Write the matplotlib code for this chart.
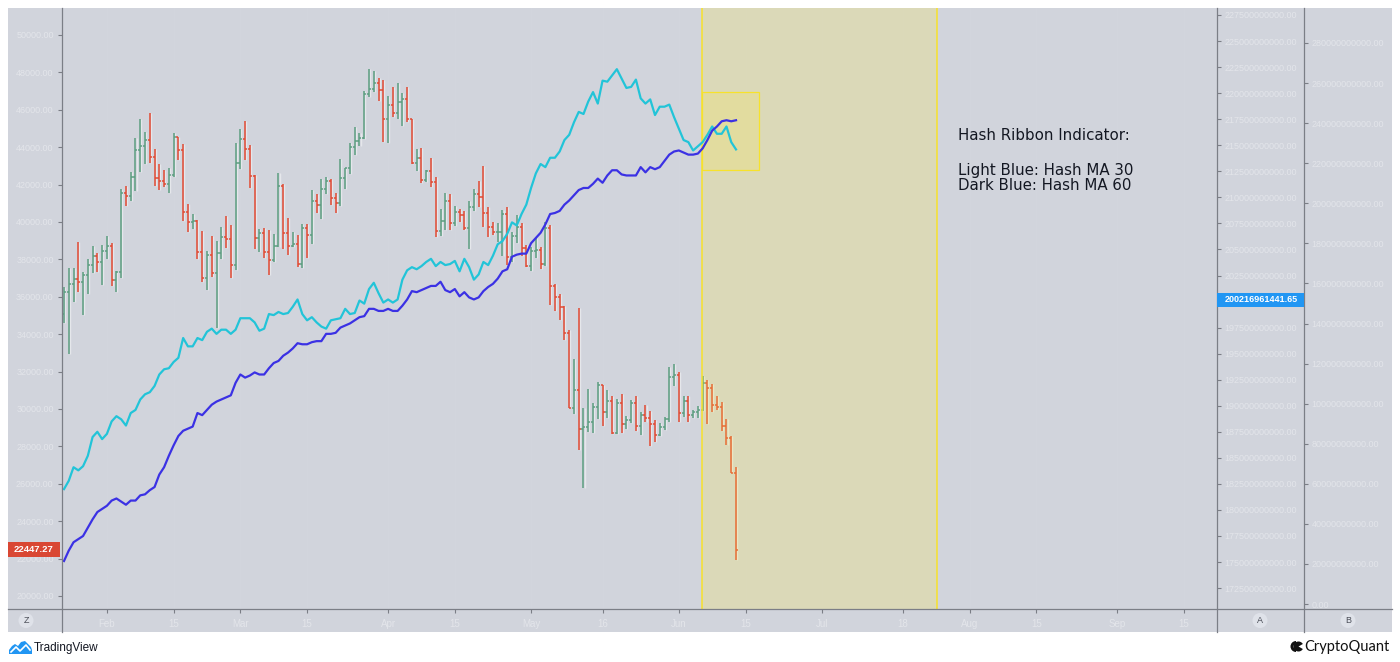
import matplotlib
matplotlib.use("Agg")
import matplotlib.pyplot as plt
import matplotlib.dates as mdates
from matplotlib.patches import Rectangle, Circle, Polygon, Wedge
from matplotlib.lines import Line2D
from matplotlib.ticker import FixedLocator, FuncFormatter
import numpy as np
import pandas as pd

# ---------------- data ----------------
start_date = "2022-01-23"
opens = [35071, 36244, 36660, 36958, 36810, 37160, 37716, 38166, 37881, 38466,
         38694, 36896, 37311, 41574, 41382, 42380, 43839, 44042, 44373, 43495,
         42373, 42217, 42053, 42535, 44544, 43873, 40515, 39975, 40080, 38386,
         37009, 38230, 37250, 38328, 39219, 39116, 37699, 43160, 44421, 43892,
         42454, 39148, 39397, 38420, 37988, 38730, 41941, 39422, 38730, 38807,
         37777, 39671, 39280, 41114, 40917, 41757, 42201, 41262, 41002, 42364,
         42882, 43991, 44313, 44511, 46827, 47122, 47434, 47067, 45510, 46283,
         45811, 46407, 46580, 45497, 43170, 43445, 42252, 42753, 42158, 39530,
         40074, 41147, 39942, 40552, 40378, 39678, 40801, 41494, 41358, 40480,
         39709, 39441, 39450, 40426, 38112, 39235, 39742, 38596, 37630, 38468,
         38525, 37729, 39690, 36552, 36013, 35472, 34038, 30076, 31017, 28936,
         29047, 29283, 30101, 31305, 29862, 30425, 28716, 30297, 29198, 29432,
         30323, 29098, 29655, 29543, 29202, 28629, 29031, 29468, 31734, 31801,
         29800, 30452, 29700, 29865, 29920, 31373, 31125, 30205, 30110, 29090,
         28424, 26574]
highs = [36499, 37550, 37545, 38919, 37300, 38000, 38720, 38360, 38744, 39265,
         38855, 37387, 41772, 41913, 42656, 44500, 45492, 44799, 45821, 43920,
         43079, 42760, 42876, 44751, 44549, 44164, 40959, 40444, 40125, 39494,
         38429, 39249, 38968, 39728, 40300, 39855, 44225, 44949, 45400, 44102,
         42527, 39613, 39693, 39547, 39362, 42594, 42039, 40236, 39486, 39310,
         39914, 39887, 41718, 41478, 42325, 42400, 42296, 41544, 43361, 42893,
         44220, 45094, 44786, 46999, 48189, 48096, 47700, 47600, 46720, 47213,
         47444, 46890, 47200, 45507, 43900, 43970, 42800, 43410, 42414, 40699,
         41561, 41500, 40870, 40709, 40595, 41116, 41760, 42199, 42976, 40795,
         39980, 39940, 40617, 40797, 39474, 40372, 39925, 38795, 38675, 39168,
         38650, 39980, 39845, 36660, 36146, 35503, 34244, 32658, 35400, 30033,
         31083, 30343, 31460, 31305, 31000, 30670, 30545, 30777, 29617, 30487,
         30672, 29840, 30226, 29876, 29400, 29250, 29577, 32222, 32399, 31982,
         30688, 30690, 29940, 30170, 31760, 31555, 31330, 30700, 30400, 29440,
         28550, 26883]
lows = [34601, 32917, 35701, 36234, 35000, 36155, 37268, 37351, 36632, 38000,
        36586, 36250, 37026, 40843, 41116, 41645, 42666, 43117, 43174, 41938,
        41688, 41870, 41570, 42427, 43307, 40073, 39450, 39639, 38000, 36800,
        36350, 37036, 34322, 38014, 38600, 37000, 37450, 42809, 43334, 41832,
        38550, 38407, 38088, 37155, 37867, 38656, 38539, 38224, 38660, 37578,
        37555, 38098, 38828, 40500, 40135, 41499, 40911, 40467, 40875, 41751,
        42560, 43579, 44072, 44422, 46663, 46950, 46445, 44300, 44200, 45620,
        45530, 45118, 45353, 43121, 42727, 42107, 42125, 41868, 39200, 39254,
        39588, 39551, 39766, 39991, 39546, 38536, 40571, 40820, 39751, 39177,
        39285, 38929, 38200, 37702, 37881, 38881, 38175, 37578, 37386, 38052,
        37500, 37670, 35571, 35258, 34785, 33713, 30033, 29730, 27785, 25800,
        28752, 28713, 29480, 29075, 29500, 28654, 28670, 28730, 28950, 29227,
        28843, 28600, 29294, 28019, 28261, 28549, 28861, 29300, 31216, 29310,
        29580, 29300, 29500, 29500, 29880, 29220, 29850, 29942, 28850, 28100,
        26560, 21900]
closes = [36244, 36660, 36958, 36810, 37160, 37716, 38166, 37881, 38466, 38694,
          36896, 37311, 41574, 41382, 42380, 43839, 44042, 44373, 43495, 42373,
          42217, 42053, 42535, 44544, 43873, 40515, 39975, 40080, 38386, 37009,
          38230, 37250, 38328, 39219, 39116, 37699, 43160, 44421, 43892, 42454,
          39148, 39397, 38420, 37988, 38730, 41941, 39422, 38730, 38807, 37777,
          39671, 39280, 41114, 40917, 41757, 42201, 41262, 41002, 42364, 42882,
          43991, 44313, 44511, 46827, 47122, 47434, 47067, 45510, 46283, 45811,
          46407, 46580, 45497, 43170, 43445, 42252, 42753, 42158, 39530, 40074,
          41147, 39942, 40552, 40378, 39678, 40801, 41494, 41358, 40480, 39709,
          39441, 39450, 40426, 38112, 39235, 39742, 38596, 37630, 38468, 38525,
          37729, 39690, 36552, 36013, 35472, 34038, 30076, 31017, 28936, 29047,
          29283, 30101, 31305, 29862, 30425, 28716, 30297, 29198, 29432, 30323,
          29098, 29655, 29543, 29202, 28629, 29031, 29468, 31734, 31801, 29800,
          30452, 29700, 29865, 29920, 31373, 31125, 30205, 30110, 29090, 28424,
          26574, 22447.27]

# hash rate moving averages (in billions, plotted on scale "A")
hash_ma30 = [182.0, 182.8, 184.1, 183.8, 184.2, 185.2, 187.0, 187.5, 186.8, 187.3,
             188.5, 189.0, 188.7, 188.1, 189.3, 189.6, 190.6, 191.1, 191.3, 191.9,
             193.0, 193.5, 193.6, 194.2, 194.6, 196.5, 195.7, 195.7, 196.5, 196.3,
             197.1, 197.4, 196.9, 197.3, 197.3, 196.9, 197.3, 198.4, 198.4, 198.4,
             198.0, 197.2, 197.4, 198.8, 198.7, 199.0, 198.8, 198.9, 199.5, 200.2,
             198.8, 198.2, 198.5, 198.0, 197.6, 197.4, 198.2, 198.3, 198.4, 199.3,
             198.8, 198.9, 200.1, 199.8, 201.2, 201.8, 200.8, 199.9, 200.2, 199.9,
             200.2, 202.1, 203.0, 203.3, 203.1, 203.4, 203.8, 204.1, 203.4, 203.8,
             203.5, 203.6, 203.9, 202.9, 204.1, 203.3, 202.1, 202.6, 203.8, 203.5,
             204.4, 205.5, 205.8, 206.5, 207.6, 207.3, 208.4, 209.3, 210.9, 212.3,
             213.2, 212.9, 213.8, 213.8, 214.4, 215.5, 216.0, 217.2, 218.2, 218.0,
             219.2, 220.1, 219.0, 221.2, 221.1, 221.7, 222.3, 221.4, 220.5, 220.6,
             221.3, 219.5, 219.0, 219.4, 217.9, 218.7, 218.7, 218.9, 217.7, 216.6,
             215.5, 215.3, 214.5, 214.9, 215.3, 216.0, 216.8, 216.1, 216.1, 216.8,
             215.3, 214.6]
hash_ma60 = [175.1, 176.1, 176.9, 177.2, 177.5, 178.3, 179.1, 179.8, 180.1, 180.4,
             180.9, 181.1, 180.8, 180.5, 180.9, 180.9, 181.4, 181.5, 181.9, 182.2,
             183.4, 184.1, 185.2, 186.2, 187.1, 187.6, 187.8, 188.0, 189.3, 189.1,
             189.6, 190.1, 190.4, 190.6, 190.8, 191.0, 192.2, 193.0, 192.7, 192.9,
             193.2, 193.0, 193.0, 193.6, 194.1, 194.3, 194.8, 195.1, 195.5, 196.0,
             195.9, 195.9, 196.1, 196.2, 196.2, 196.9, 196.9, 197.0, 197.5, 197.7,
             197.9, 198.2, 198.5, 198.6, 199.3, 199.3, 199.1, 199.1, 199.3, 199.1,
             199.1, 199.6, 200.2, 201.0, 200.9, 201.1, 201.3, 201.5, 201.5, 201.9,
             201.1, 200.9, 201.2, 200.5, 200.9, 200.4, 200.2, 200.4, 201.0, 201.4,
             201.7, 202.2, 202.9, 203.1, 204.3, 204.5, 204.6, 204.6, 205.6, 206.1,
             206.6, 207.4, 208.4, 208.5, 208.7, 209.3, 209.7, 210.2, 210.7, 210.9,
             210.9, 211.3, 211.8, 211.4, 212.1, 212.6, 212.6, 212.2, 212.1, 212.1,
             212.1, 212.9, 212.4, 212.9, 212.7, 212.9, 213.5, 214.1, 214.4, 214.5,
             214.3, 214.1, 214.1, 214.2, 214.7, 215.5, 216.4, 216.8, 217.3, 217.4,
             217.3, 217.4]
HASH_UNIT = 1e9

last_price_label = "22447.27"
last_hash_label = "200216961441.65"

price_ticks = [20000, 22000, 24000, 26000, 28000, 30000, 32000, 34000,
               36000, 38000, 40000, 42000, 44000, 46000, 48000, 50000]
hashA_ticks = [172.5, 175.0, 177.5, 180.0, 182.5, 185.0, 187.5, 190.0, 192.5,
               195.0, 197.5, 200.0, 202.5, 205.0, 207.5, 210.0, 212.5, 215.0,
               217.5, 220.0, 222.5, 225.0, 227.5]
hashB_ticks = [0, 20, 40, 60, 80, 100, 120, 140, 160, 180, 200, 220, 240, 260, 280]

date_ticks = ["2022-02-01", "2022-02-15", "2022-03-01", "2022-03-15", "2022-04-01",
              "2022-04-15", "2022-05-01", "2022-05-16", "2022-06-01", "2022-06-15",
              "2022-07-01", "2022-07-18", "2022-08-01", "2022-08-15", "2022-09-01",
              "2022-09-15"]
date_labels = ["Feb", "15", "Mar", "15", "Apr", "15", "May", "16", "Jun", "15",
               "Jul", "18", "Aug", "15", "Sep", "15"]

highlight_span = ("2022-06-05 20:00", "2022-07-25 05:00")
small_box = ("2022-06-05 20:00", "2022-06-17 20:00", 42780, 46950)

annotation_title = "Hash Ribbon Indicator:"
annotation_lines = ["Light Blue: Hash MA 30", "Dark Blue: Hash MA 60"]

# ---------------- style ----------------
BG = "#d1d4dc"
FAINT = "#e3e5ea"
GRID = "#d3d6de"
SPINE = "#7b7e86"
GREEN = "#5c9e80"
RED = "#e14a33"
CYAN = "#22c4d8"
DBLUE = "#3b31e4"
YELLOW = "#ffeb3b"

W, H = 1400, 662
fig = plt.figure(figsize=(W / 100, H / 100), dpi=100)
fig.patch.set_facecolor("white")
T = fig.dpi_scale_trans


def P(px, py):
    return (px / 100.0, (H - py) / 100.0)


def box_px(x0, y0, x1, y1):
    return [x0 / W, 1 - y1 / H, (x1 - x0) / W, (y1 - y0) / H]


# panel background
fig.add_artist(Rectangle(P(8, 632), 13.84, 6.24, transform=T, facecolor=BG,
                         edgecolor="none", zorder=-5))

# ---------------- main price axes ----------------
ax = fig.add_axes(box_px(62, 8, 1217, 609))
ax.set_facecolor("none")
for s in ax.spines.values():
    s.set_visible(False)

dates = pd.date_range(start_date, periods=len(closes), freq="D")
x = mdates.date2num(dates)
x0 = x[0]
day_px = 4.766
ax.set_xlim(x0 - 2 / day_px, x0 + (1217 - 64) / day_px)
ppx = 2000 / 37.4
ax.set_ylim(50000 - (609 - 35) * ppx, 50000 + (35 - 8) * ppx)

ax.yaxis.set_major_locator(FixedLocator(price_ticks))
ax.yaxis.set_major_formatter(FuncFormatter(lambda v, p: f"{v:.2f}"))
ax.tick_params(axis="y", which="both", left=True, labelleft=True, direction="out",
               length=3, width=0.8, color=SPINE, pad=3, labelcolor=FAINT,
               labelsize=6.5, labelfontfamily="Liberation Sans")
tick_nums = mdates.date2num(pd.to_datetime(date_ticks))
ax.xaxis.set_major_locator(FixedLocator(tick_nums))
ax.set_xticklabels(date_labels)
ax.tick_params(axis="x", direction="out", length=3, width=0.8, color=SPINE, pad=4.5,
               labelcolor=FAINT, labelsize=7, labelfontfamily="Liberation Sans")
ax.grid(axis="x", color=GRID, lw=0.7, zorder=0)

# OHLC bars
o = np.array(opens, float); h = np.array(highs, float)
l = np.array(lows, float); c = np.array(closes, float)
cols = [GREEN if cc >= oo else RED for oo, cc in zip(o, c)]
tk = 0.42
ax.vlines(x + 0.22, l, h, color="white", alpha=0.45, lw=1.0, zorder=1)
ax.vlines(x, l, h, color=cols, lw=1.1, zorder=2)
ax.hlines(o, x - tk, x, color=cols, lw=1.1, zorder=2)
ax.hlines(c, x, x + tk, color=cols, lw=1.1, zorder=2)

# highlighted period
hs = mdates.date2num(pd.to_datetime(highlight_span[0]))
he = mdates.date2num(pd.to_datetime(highlight_span[1]))
ax.axvspan(hs, he, color=YELLOW, alpha=0.22, lw=0, zorder=3)
ax.axvline(hs, color="#f7e22b", lw=1.1, zorder=3.5)
ax.axvline(he, color="#f7e22b", lw=1.1, zorder=3.5)
bs = mdates.date2num(pd.to_datetime(small_box[0]))
be = mdates.date2num(pd.to_datetime(small_box[1]))
ax.add_patch(Rectangle((bs, small_box[2]), be - bs, small_box[3] - small_box[2],
                       facecolor=YELLOW, alpha=0.2, edgecolor="none", zorder=3))
ax.add_patch(Rectangle((bs, small_box[2]), be - bs, small_box[3] - small_box[2],
                       facecolor="none", edgecolor="#f7e22b", lw=0.9, zorder=3.5))

# ---------------- hash axis A (twin) ----------------
ax2 = ax.twinx()
ax2.set_facecolor("none")
for s in ax2.spines.values():
    s.set_visible(False)
vpx = 2.5 / 26.05
ax2.set_ylim(227.5e9 - (609 - 15) * vpx * 1e9, 227.5e9 + (15 - 8) * vpx * 1e9)
ax2.yaxis.set_major_locator(FixedLocator([t * 1e9 for t in hashA_ticks]))
ax2.yaxis.set_major_formatter(FuncFormatter(lambda v, p: f"{v:.2f}"))
ax2.tick_params(axis="y", direction="out", length=3, width=0.8, color=SPINE, pad=2.5,
                labelcolor=FAINT, labelsize=6.5, labelfontfamily="Liberation Sans")
ax2.plot(x, np.array(hash_ma30) * HASH_UNIT, color=CYAN, lw=1.6, zorder=4)
ax2.plot(x, np.array(hash_ma60) * HASH_UNIT, color=DBLUE, lw=1.6, zorder=4)

# ---------------- hash axis B ----------------
axb = fig.add_axes(box_px(1217, 8, 1304, 609))
axb.set_facecolor("none")
for s in axb.spines.values():
    s.set_visible(False)
bpx = 561 / 280.0
axb.set_ylim(-(609 - 604) / bpx * 1e9, (604 - 8) / bpx * 1e9)
axb.set_xticks([])
axb.yaxis.tick_right()
axb.yaxis.set_major_locator(FixedLocator([t * 1e9 for t in hashB_ticks]))
axb.yaxis.set_major_formatter(FuncFormatter(lambda v, p: f"{v:.2f}"))
axb.tick_params(axis="y", direction="out", length=3, width=0.8, color=SPINE, pad=2.5,
                labelcolor=FAINT, labelsize=6.5, labelfontfamily="Liberation Sans")

# ---------------- frame lines ----------------
for xx in (62, 1217, 1304):
    fig.add_artist(Line2D([xx / 100, xx / 100], [(H - 8) / 100, (H - 632) / 100],
                          transform=T, color=SPINE, lw=0.9, zorder=6))
fig.add_artist(Line2D([8 / 100, 1392 / 100], [(H - 609) / 100, (H - 609) / 100],
                      transform=T, color=SPINE, lw=0.9, zorder=6))

# pane buttons
for (cx, lab) in ((26, "Z"), (1260, "A"), (1348, "B")):
    fig.add_artist(Circle(P(cx, 620.5), 0.075, transform=T, facecolor="#dfe2e9",
                          edgecolor="none", zorder=6))
    fig.text(cx / W, 1 - 620.5 / H, lab, ha="center", va="center", fontsize=6.5,
             color="#4a4d57", family="Liberation Sans", zorder=7)

# last-value labels
fig.add_artist(Rectangle(P(8, 557), 0.52, 0.15, transform=T, facecolor="#d94733",
                         edgecolor="none", zorder=8))
fig.text(34 / W, 1 - 549.5 / H, last_price_label, ha="center", va="center",
         fontsize=6.8, color="white", weight="bold", family="Liberation Sans", zorder=9)
fig.add_artist(Rectangle(P(1217, 307), 0.87, 0.14, transform=T, facecolor="#2196f3",
                         edgecolor="none", zorder=8))
fig.text(1261 / W, 1 - 300 / H, last_hash_label, ha="center", va="center",
         fontsize=6.5, color="white", weight="bold", family="Liberation Sans", zorder=9)

# annotation
fig.text(958 / W, 1 - 139.5 / H, annotation_title, ha="left", va="baseline",
         fontsize=10.8, color="#131722", family="DejaVu Sans", zorder=9)
fig.text(958 / W, 1 - 175 / H, annotation_lines[0], ha="left", va="baseline",
         fontsize=10.8, color="#131722", family="DejaVu Sans", zorder=9)
fig.text(958 / W, 1 - 190 / H, annotation_lines[1], ha="left", va="baseline",
         fontsize=10.8, color="#131722", family="DejaVu Sans", zorder=9)

# footer logos
logo_pts = [(9, 654), (9, 650), (12, 646), (15, 644), (18, 646), (21, 642),
            (25, 641), (28, 644), (31, 647), (32, 650), (32, 654)]
fig.add_artist(Polygon([P(*p) for p in logo_pts], closed=True, transform=T,
                       facecolor="#2196f3", edgecolor="none"))
zig = [(11, 652), (16, 647), (20, 651), (26, 645), (30, 650)]
fig.add_artist(Line2D([p[0] / 100 for p in zig], [(H - p[1]) / 100 for p in zig],
                      transform=T, color="white", lw=1.2))
fig.text(33.5 / W, 1 - 647.5 / H, "TradingView", ha="left", va="center", fontsize=8.5,
         color="#131722", family="Liberation Sans")
fig.add_artist(Wedge(P(1296, 646.5), 0.055, 90, 270, width=0.03, transform=T,
                     facecolor="#111111", edgecolor="none"))
fig.add_artist(Wedge(P(1298.5, 646.5), 0.05, 30, 330, transform=T,
                     facecolor="#111111", edgecolor="none"))
fig.text(1304 / W, 1 - 646.5 / H, "CryptoQuant", ha="left", va="center", fontsize=10.5,
         color="#111111", family="Lato")

fig.savefig("out.png", dpi=100, facecolor="white")
